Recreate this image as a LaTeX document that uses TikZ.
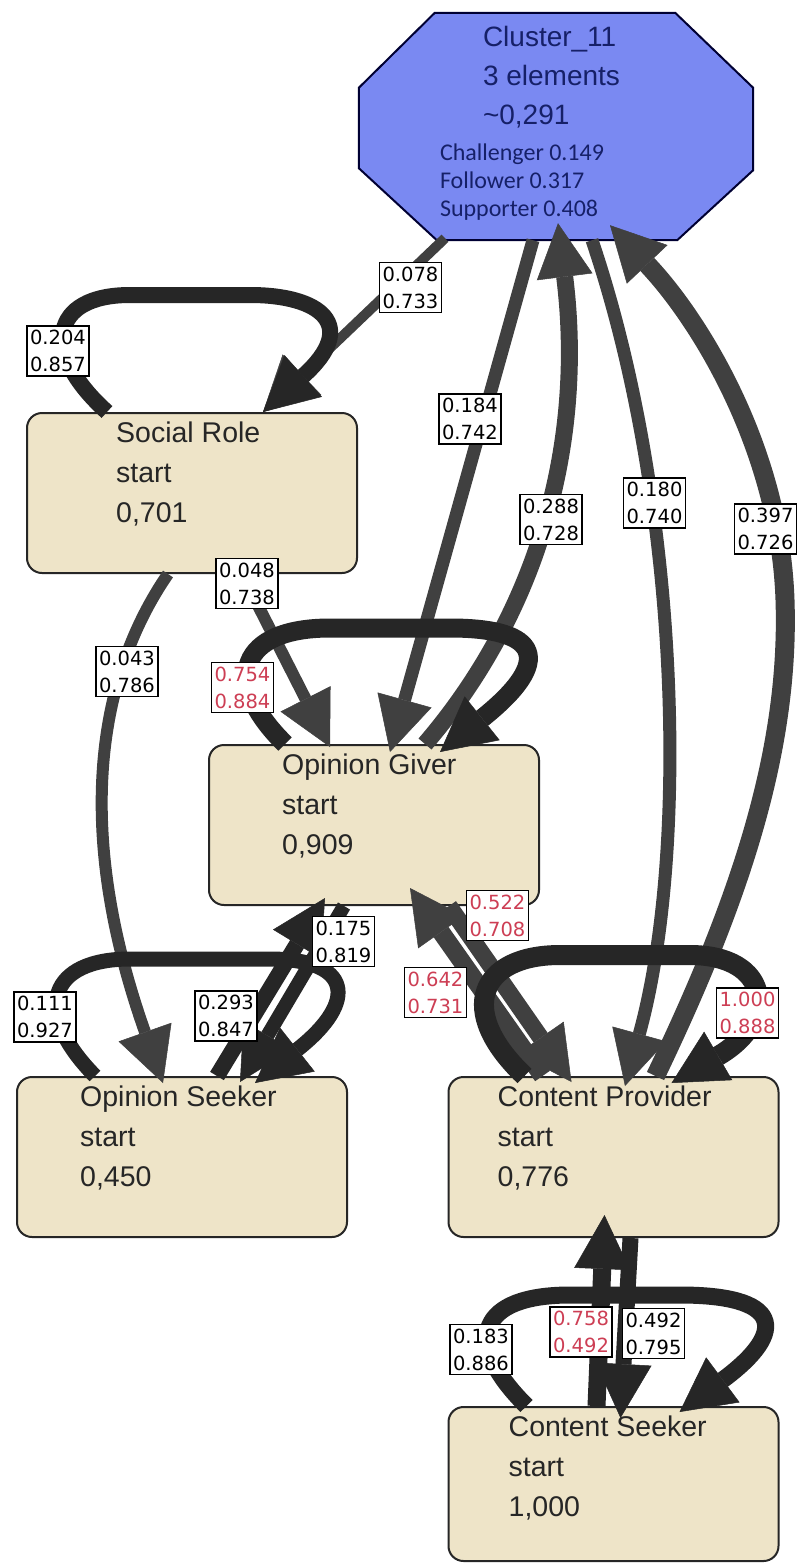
\documentclass[tikz,border=0pt]{standalone}
\usepackage{fontspec}
\setmainfont{Liberation Sans}
\newfontfamily\calfont{Carlito}
\newfontfamily\verdfont{DejaVu Sans}
\usetikzlibrary{arrows.meta}
\usetikzlibrary{positioning}
\definecolor{boxfill}{RGB}{238,228,200}
\definecolor{clfill}{RGB}{122,137,242}
\definecolor{cltext}{RGB}{22,32,104}
\definecolor{edgegray}{RGB}{64,64,64}
\definecolor{loopgray}{RGB}{38,38,38}
\definecolor{lblred}{RGB}{205,62,84}

\begin{document}
\begin{tikzpicture}[x=1pt, y=-1pt,
  state/.style={rectangle, rounded corners=15pt, draw=black!85, line width=2pt, fill=boxfill, minimum width=330pt, minimum height=160pt, inner sep=0pt},
  statetext/.style={font=\fontsize{28.5}{40}\selectfont, align=left, inner sep=0pt, text=black!85},
  trans/.style={draw=edgegray, -{Triangle[length=54pt, width=56pt, line width=0.5pt]}},
  selfloop/.style={trans, draw=loopgray},
  lbl/.style={draw=black, line width=1.3pt, fill=white, font=\verdfont\fontsize{19.5}{27}\selectfont, align=left, inner xsep=3pt, inner ysep=4pt},
  hot/.style={lbl, text=lblred}]
  \useasboundingbox (0,0) rectangle (800,1564);
  \fill[white] (0,0) rectangle (800,1564);

  % cluster node
  \node[minimum width=394pt, minimum height=227pt, inner sep=0pt] (cl) at (556,126.5) {};
  \draw[fill=clfill, draw=black!80!blue, line width=2pt]
    ([xshift=76pt]cl.north west) -- ([xshift=-78pt]cl.north east) -- ([yshift=-75pt]cl.north east)
    -- ([yshift=70pt]cl.south east) -- ([xshift=-76pt]cl.south east) -- ([xshift=78pt]cl.south west)
    -- ([yshift=72pt]cl.south west) -- ([yshift=-75pt]cl.north west) -- cycle;
  \node[font=\fontsize{28}{39}\selectfont, text=cltext, align=left, inner sep=0pt, below right=13.5pt and 124pt of cl.north west] (cltitle) {Cluster\_11\\3 elements\\\textasciitilde0,291};
  \node[font=\calfont\fontsize{24}{28}\selectfont, text=cltext, align=left, inner sep=0pt, below right=131pt and 81pt of cl.north west] (clroles) {Challenger 0.149\\Follower 0.317\\Supporter 0.408};

  % states
  \node[state] (sr) at (192,493) {};
  \node[state] (og) at (374,825) {};
  \node[state] (os) at (182,1157) {};
  \node[state] (cp) at (613.5,1157) {};
  \node[state, minimum height=154pt] (cs) at (613.5,1484) {};
  \node[statetext, below right=10pt and 90pt of sr.north west] (srtxt) {Social Role\\start\\0,701};
  \node[statetext, below right=10pt and 74pt of og.north west] (ogtxt) {Opinion Giver\\start\\0,909};
  \node[statetext, below right=10pt and 64pt of os.north west] (ostxt) {Opinion Seeker\\start\\0,450};
  \node[statetext, below right=10pt and 50pt of cp.north west] (cptxt) {Content Provider\\start\\0,776};
  \node[statetext, below right=10pt and 61pt of cs.north west] (cstxt) {Content Seeker\\start\\1,000};

  % transitions
  \draw[trans, line width=10pt] ([xshift=-111pt,yshift=2pt]cl.south) -- ([xshift=71pt]sr.north);
  \draw[selfloop, line width=16pt] ([xshift=-85pt]sr.north) .. controls (40,352) and (50,295) .. (130,295)
    -- (250,295) .. controls (320,295) and (360,325) .. ([xshift=71pt]sr.north);
  \draw[trans, line width=13pt] ([xshift=-23pt]cl.south) -- ([xshift=16pt,yshift=-8pt]og.north);
  \draw[trans, line width=17pt] ([xshift=51pt]og.north) .. controls (540,610) and (585,440) .. ([xshift=2pt,yshift=17pt]cl.south);
  \draw[trans, line width=13pt] ([xshift=36pt]cl.south) .. controls (680,500) and (690,850) .. ([xshift=11.5pt,yshift=-10pt]cp.north);
  \draw[trans, line width=19pt] ([xshift=42pt]cp.north) .. controls (740,900) and (790,750) .. (785,600)
    .. controls (780,450) and (700,320) .. ([xshift=54pt,yshift=15pt]cl.south);
  \draw[trans, line width=12pt] ([xshift=-24pt]sr.south) .. controls (95,680) and (75,834) .. ([xshift=-19pt,yshift=-7pt]os.north);
  \draw[trans, line width=12pt] ([xshift=50pt]sr.south) -- ([xshift=-44pt,yshift=-3pt]og.north);
  \draw[selfloop, line width=19pt] ([xshift=-89pt]og.north) .. controls (220,680) and (240,628) .. (330,628)
    -- (450,628) .. controls (540,628) and (555,660) .. ([xshift=66pt,yshift=-8pt]og.north);
  \draw[selfloop, line width=16pt] ([xshift=35pt]os.north) -- ([xshift=-49pt,yshift=8pt]og.south);
  \draw[selfloop, line width=14pt] ([xshift=-30pt]og.south) -- ([xshift=58pt,yshift=-6pt]os.north);
  \draw[selfloop, line width=15pt] ([xshift=-87pt]os.north) .. controls (30,1010) and (50,959) .. (130,959)
    -- (270,959) .. controls (350,959) and (360,1000) .. ([xshift=73pt,yshift=-7pt]os.north);
  \draw[trans, line width=17pt] ([xshift=75pt]og.south) -- ([xshift=-42pt,yshift=-6pt]cp.north);
  \draw[trans, line width=18pt] ([xshift=-71pt]cp.north) -- ([xshift=36pt,yshift=18pt]og.south);
  \draw[selfloop, line width=20pt] ([xshift=-89pt]cp.north) .. controls (455,1010) and (480,955) .. (560,955)
    -- (690,955) .. controls (770,955) and (780,1020) .. ([xshift=58pt,yshift=-7pt]cp.north);
  \draw[selfloop, line width=17pt] ([xshift=-87pt]cs.north) .. controls (460,1340) and (480,1295) .. (570,1295)
    -- (680,1295) .. controls (780,1295) and (790,1330) .. ([xshift=66pt,yshift=-6pt]cs.north);
  \draw[selfloop, line width=18pt] ([xshift=-17pt]cs.north) -- ([xshift=-9pt,yshift=23pt]cp.south);
  \draw[selfloop, line width=16pt] ([xshift=17pt]cp.south) -- ([xshift=7pt,yshift=-12pt]cs.north);

  % labels
  \node[lbl] (l204) at (58,351) {0.204\\0.857};
  \node[lbl] (l078) at (410.5,287.5) {0.078\\0.733};
  \node[lbl] (l184) at (470,419) {0.184\\0.742};
  \node[lbl] (l288) at (551,519.5) {0.288\\0.728};
  \node[lbl] (l180) at (654.5,503) {0.180\\0.740};
  \node[lbl] (l397) at (765.5,529) {0.397\\0.726};
  \node[lbl] (l048) at (247,583.5) {0.048\\0.738};
  \node[lbl] (l043) at (127,671.5) {0.043\\0.786};
  \node[hot] (l754) at (242.5,687.5) {0.754\\0.884};
  \node[lbl] (l175) at (343.5,941.5) {0.175\\0.819};
  \node[lbl] (l111) at (45,1017) {0.111\\0.927};
  \node[lbl] (l293) at (226,1016) {0.293\\0.847};
  \node[hot] (l522) at (497.5,915.5) {0.522\\0.708};
  \node[hot] (l642) at (435.5,992.5) {0.642\\0.731};
  \node[hot] (l1000) at (747.5,1013) {1.000\\0.888};
  \node[lbl] (l183) at (481,1349.5) {0.183\\0.886};
  \node[hot] (l758) at (581,1332) {0.758\\0.492};
  \node[lbl] (l492) at (653.5,1333.5) {0.492\\0.795};
\end{tikzpicture}
\end{document}
